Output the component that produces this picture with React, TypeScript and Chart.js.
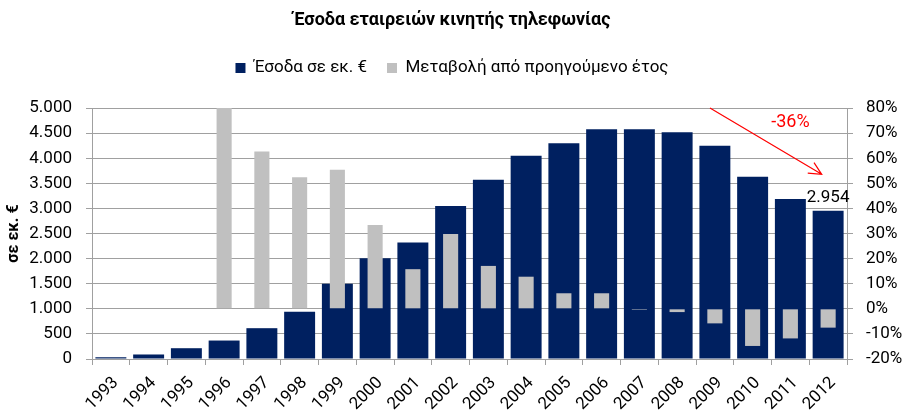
import React, { useEffect, useRef } from 'react';
import { Chart, registerables } from 'chart.js';

Chart.register(...registerables);

const years = ['1993', '1994', '1995', '1996', '1997', '1998', '1999', '2000', '2001', '2002', '2003', '2004', '2005', '2006', '2007', '2008', '2009', '2010', '2011', '2012'];
const revenue = [35, 90, 215, 368, 614, 942, 1500, 2010, 2320, 3050, 3570, 4050, 4300, 4580, 4580, 4520, 4250, 3630, 3190, 2954];
const change = [null, null, null, 80, 62.7, 52.4, 55.4, 33.4, 15.8, 29.8, 17.1, 12.8, 6.2, 6.2, -0.4, -1.3, -5.8, -14.8, -11.8, -7.5];

const titleText = 'Έσοδα εταιρειών κινητής τηλεφωνίας';
const seriesNames = ['Έσοδα σε εκ. €', 'Μεταβολή από προηγούμενο έτος'];
const yTitle = 'σε εκ. €';

// trend annotation in data units (category index, left-axis value)
const trendArrow = { fromIndex: 15.87, fromValue: 5000, toIndex: 18.83, toValue: 3680 };
const trendLabel = { text: '-36%', index: 18, value: 4720 };

const FONT = 'Roboto';
const fmt = (v: number) => Math.round(v).toString().replace(/\B(?=(\d{3})+(?!\d))/g, '.');

const overlayPlugin = {
  id: 'overlay',
  beforeLayout(chart: any) {
    const lg = chart.legend;
    if (lg && !lg.__patched) {
      const orig = lg.fit;
      lg.fit = function () {
        orig.call(this);
        this.height += 21.5;
      };
      lg.__patched = true;
    }
  },
  afterDatasetsDraw(chart: any) {
    const { ctx, scales } = chart;
    const x = scales.x;
    const y = scales.y;
    ctx.save();
    // data label on last bar
    const meta = chart.getDatasetMeta(0);
    const last = meta.data[meta.data.length - 1];
    ctx.font = `17px ${FONT}`;
    ctx.fillStyle = '#000';
    ctx.textAlign = 'center';
    ctx.textBaseline = 'middle';
    ctx.fillText(fmt(revenue[revenue.length - 1]), last.x, last.y - 13);

    // arrow
    const x1 = x.getPixelForValue(trendArrow.fromIndex);
    const y1 = y.getPixelForValue(trendArrow.fromValue);
    const x2 = x.getPixelForValue(trendArrow.toIndex);
    const y2 = y.getPixelForValue(trendArrow.toValue);
    ctx.strokeStyle = '#FF0000';
    ctx.lineWidth = 1.2;
    ctx.beginPath();
    ctx.moveTo(x1, y1);
    ctx.lineTo(x2, y2);
    const ang = Math.atan2(y2 - y1, x2 - x1);
    const len = 14;
    const spread = (26 * Math.PI) / 180;
    ctx.moveTo(x2 - len * Math.cos(ang - spread), y2 - len * Math.sin(ang - spread));
    ctx.lineTo(x2, y2);
    ctx.lineTo(x2 - len * Math.cos(ang + spread), y2 - len * Math.sin(ang + spread));
    ctx.stroke();

    ctx.font = `18px ${FONT}`;
    ctx.fillStyle = '#FF0000';
    ctx.fillText(trendLabel.text, x.getPixelForValue(trendLabel.index), y.getPixelForValue(trendLabel.value));
    ctx.restore();
  },
};

export default function App() {
  const ref = useRef<HTMLCanvasElement | null>(null);
  useEffect(() => {
    const canvas = ref.current;
    if (!canvas) return;
    const gridColor = '#A0A0A0';
    const chart = new Chart(canvas, {
      type: 'bar',
      data: {
        labels: years,
        datasets: [
          {
            label: seriesNames[0],
            data: revenue,
            backgroundColor: '#002060',
            borderWidth: 0,
            yAxisID: 'y',
            grouped: false,
            order: 1,
            categoryPercentage: 1,
            barPercentage: 0.82,
          } as any,
          {
            label: seriesNames[1],
            data: change,
            backgroundColor: '#C0C0C0',
            borderWidth: 0,
            yAxisID: 'y2',
            grouped: false,
            order: 0,
            categoryPercentage: 1,
            barPercentage: 0.4,
          } as any,
        ],
      },
      options: {
        responsive: false,
        animation: false,
        layout: { padding: 0 },
        plugins: {
          title: {
            display: true,
            text: titleText,
            color: '#000',
            font: { family: FONT, size: 18, weight: 'bold' },
            padding: { top: 10, bottom: 8 },
          },
          legend: {
            display: true,
            position: 'top',
            labels: {
              color: '#000',
              font: { family: FONT, size: 17 },
              boxWidth: 10,
              boxHeight: 10,
              padding: 20,
              sort: (a: any, b: any) => a.datasetIndex - b.datasetIndex,
            },
          },
          tooltip: { enabled: false },
        },
        scales: {
          x: {
            type: 'category',
            offset: true,
            grid: { offset: true, drawOnChartArea: false, color: gridColor, tickLength: 6 },
            border: { color: gridColor },
            ticks: {
              color: '#000',
              font: { family: FONT, size: 17 },
              minRotation: 45,
              maxRotation: 45,
              autoSkip: false,
              padding: 8,
              labelOffset: 5,
            },
            afterFit: (s: any) => { s.height = 57; },
          },
          y: {
            position: 'left',
            min: 0,
            max: 5000,
            ticks: {
              stepSize: 500,
              color: '#000',
              font: { family: FONT, size: 17 },
              padding: 14,
              callback: (v: any) => fmt(Number(v)),
            },
            grid: { color: gridColor, tickLength: 6 },
            border: { color: gridColor },
            title: {
              display: true,
              text: yTitle,
              color: '#000',
              font: { family: FONT, size: 16, weight: 'bold' },
              padding: { top: 4, bottom: 0 },
            },
            afterFit: (s: any) => { s.width = 92; },
          },
          y2: {
            position: 'right',
            min: -20,
            max: 80,
            ticks: {
              stepSize: 10,
              color: '#000',
              font: { family: FONT, size: 17 },
              padding: 13,
              callback: (v: any) => `${v}%`,
            },
            grid: { drawOnChartArea: false, color: gridColor, tickLength: 6 },
            border: { color: gridColor },
            afterFit: (s: any) => { s.width = 57; },
          },
        },
      } as any,
      plugins: [overlayPlugin],
    });
    return () => chart.destroy();
  }, []);

  return (
    <div style={{ position: 'absolute', left: 0, top: 0, width: 904, height: 416, background: '#fff' }}>
      <canvas ref={ref} width={904} height={416} style={{ width: 904, height: 416, display: 'block' }} />
    </div>
  );
}
